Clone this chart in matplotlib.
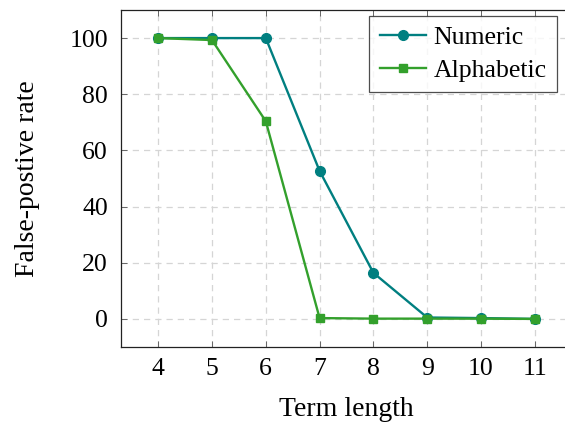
import matplotlib
matplotlib.use("Agg")
import matplotlib.pyplot as plt

term_length = [4, 5, 6, 7, 8, 9, 10, 11]
numeric = [100, 100, 100, 52.7, 16.4, 0.5, 0.3, 0.0]
alphabetic = [100, 99.3, 70.4, 0.3, 0.1, 0.1, 0.1, 0.0]
yticks = [0, 20, 40, 60, 80, 100]

plt.rcParams['font.family'] = ['Liberation Serif', 'DejaVu Serif']

fig = plt.figure(figsize=(5.65, 4.23), dpi=100)
ax = fig.add_axes([120.5/565, 76/423, 452/565, 337/423])

teal = '#007f80'
green = '#33a02c'
ax.plot(term_length, numeric, color=teal, lw=1.7, marker='o', ms=7, label='Numeric', zorder=3)
ax.plot(term_length, alphabetic, color=green, lw=1.7, marker='s', ms=6.3, label='Alphabetic', zorder=3)

ax.set_xlim(3.3, 11.7)
ax.set_ylim(-10, 110)
ax.set_xticks(term_length)
ax.set_yticks(yticks)
ax.grid(True, color='#d5d5d5', linestyle=(0, (5, 4)), lw=0.9)
ax.set_axisbelow(True)
ax.tick_params(direction='in', length=4, width=0.7, color='#666666', top=True, right=True,
               labelsize=18.5)
ax.tick_params(axis='y', pad=9)
ax.tick_params(axis='x', pad=8)
for s in ax.spines.values():
    s.set_linewidth(0.9)
    s.set_color('#222222')

ax.set_xlabel('Term length', fontsize=20, labelpad=12)
ax.set_ylabel('False-postive rate', fontsize=20, labelpad=21)

leg = ax.legend(loc='upper right', bbox_to_anchor=(557/565, 1 - 16/423),
                bbox_transform=fig.transFigure, fontsize=18.5, frameon=True,
                fancybox=False, edgecolor='#222222', handlelength=1.8,
                borderpad=0.4, labelspacing=0.38, handletextpad=0.3, borderaxespad=0)
leg.get_frame().set_linewidth(0.9)

fig.savefig('out.png', dpi=100)
